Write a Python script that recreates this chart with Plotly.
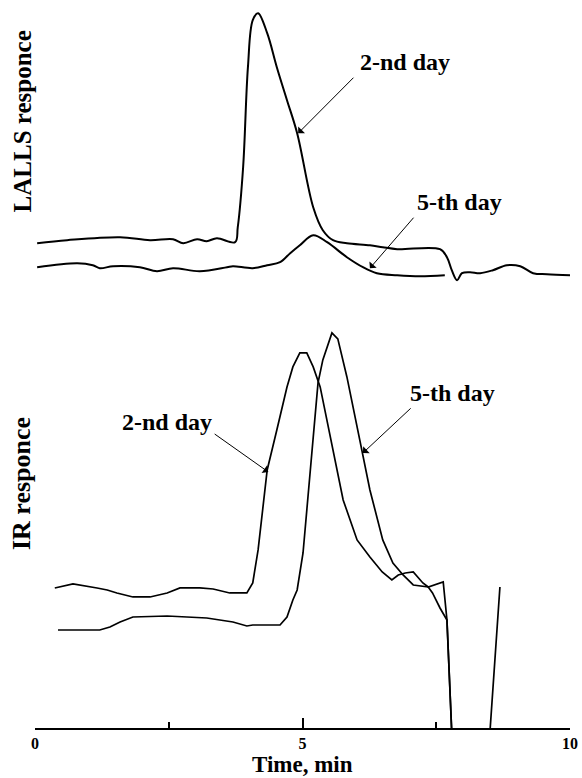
import plotly.graph_objects as go

# ---------------- data (time in min, response in arbitrary units) ----------------
# LALLS response (top panel)
lalls_2_t = [0.04, 0.60, 1.59, 2.15, 2.58, 2.77, 3.03, 3.21, 3.40, 3.74, 3.79, 3.89, 3.98, 4.07,
             4.17, 4.34, 4.52, 4.71, 4.90, 5.20, 5.38, 5.57, 5.83, 6.26, 6.50, 6.77, 7.57, 7.70,
             7.79, 7.89, 7.98, 8.13, 8.32, 8.56, 8.82, 9.07, 9.31, 9.57, 10.0]
lalls_2_y = [54, 57, 60, 57, 58, 54, 58, 56, 59, 55, 70, 130, 230, 277,
             284, 264, 230, 197, 164, 90, 67, 57, 54, 52, 50, 48, 48, 40,
             27, 17, 24, 25, 24, 27, 32, 31, 24, 23, 22]

lalls_5_t = [0.04, 0.79, 1.08, 1.21, 1.46, 1.96, 2.28, 2.58, 3.08, 3.59, 3.70, 4.07, 4.34,
             4.58, 4.77, 4.95, 5.20, 5.46, 5.83, 6.13, 6.39, 6.77, 7.20, 7.66]
lalls_5_y = [30, 34, 32, 29, 31, 30, 26, 29, 26, 30, 31, 29, 32,
             35, 44, 52, 62, 55, 40, 30, 24, 22, 21, 22]

# IR response (bottom panel)
ir_2_t = [0.37, 0.71, 1.16, 1.35, 1.53, 1.83, 2.15, 2.47, 2.71, 3.08, 3.33, 3.64, 3.96, 4.07,
          4.17, 4.24, 4.34, 4.52, 4.71, 4.82, 4.95, 5.08, 5.20, 5.33, 5.51, 5.76, 6.02, 6.26,
          6.49, 6.67, 6.79, 6.92, 7.07, 7.16, 7.25, 7.35, 7.63, 7.70, 7.81, 8.47, 8.69]
ir_2_y = [140, 144, 140, 138, 135, 131, 131, 135, 140, 140, 139, 135, 135, 145,
          178, 212, 258, 298, 341, 361, 375, 375, 361, 341, 295, 228, 188, 171,
          156, 148, 153, 155, 156, 151, 145, 141, 146, 108, -30, -30, 141]

ir_5_t = [0.43, 1.21, 1.40, 1.59, 1.83, 2.47, 3.21, 3.70, 3.96, 4.07, 4.58, 4.71, 4.82, 4.90,
          5.01, 5.10, 5.20, 5.29, 5.38, 5.55, 5.66, 5.83, 6.07, 6.26, 6.50, 6.69, 6.88, 7.07,
          7.35, 7.43, 7.57, 7.70, 7.81]
ir_5_y = [98, 98, 101, 106, 111, 112, 110, 106, 102, 103, 103, 111, 128, 138,
          175, 228, 295, 345, 368, 395, 389, 351, 288, 238, 188, 165, 153, 143,
          141, 135, 120, 108, -30]

x_ticks = [0, 5, 10]

# labels: (text, time, response) and arrows: (head_t, head_y, tail_t, tail_y)
top_labels = [("2-nd day", 6.92, 235), ("5-th day", 7.94, 95)]
top_arrows = [(4.92, 164, 5.98, 221), (6.26, 29, 7.10, 81)]
bot_labels = [("2-nd day", 2.47, 306), ("5-th day", 7.81, 335)]
bot_arrows = [(4.36, 256, 3.33, 295), (6.13, 275, 7.05, 321)]

FONT = "Liberation Serif, Times New Roman, serif"

fig = go.Figure()
fig.add_trace(go.Scatter(x=lalls_2_t, y=lalls_2_y, yaxis="y2", mode="lines",
                         line=dict(color="black", width=2), line_shape="spline",
                         hoverinfo="skip"))
fig.add_trace(go.Scatter(x=lalls_5_t, y=lalls_5_y, yaxis="y2", mode="lines",
                         line=dict(color="black", width=2), line_shape="spline",
                         hoverinfo="skip"))
fig.add_trace(go.Scatter(x=ir_2_t, y=ir_2_y, yaxis="y", mode="lines",
                         line=dict(color="black", width=1.7),
                         hoverinfo="skip"))
fig.add_trace(go.Scatter(x=ir_5_t, y=ir_5_y, yaxis="y", mode="lines",
                         line=dict(color="black", width=1.7),
                         hoverinfo="skip"))

annotations = []
for text, tx, ty in top_labels:
    annotations.append(dict(text=text, x=tx, y=ty, xref="x", yref="y2", showarrow=False,
                            font=dict(family=FONT, size=24, color="black", weight="bold")))
for text, tx, ty in bot_labels:
    annotations.append(dict(text=text, x=tx, y=ty, xref="x", yref="y", showarrow=False,
                            font=dict(family=FONT, size=24, color="black", weight="bold")))
for hx, hy, tx, ty in top_arrows:
    annotations.append(dict(text="", x=hx, y=hy, ax=tx, ay=ty, xref="x", yref="y2",
                            axref="x", ayref="y2", showarrow=True, arrowhead=1,
                            arrowsize=1.6, arrowwidth=1, arrowcolor="black"))
for hx, hy, tx, ty in bot_arrows:
    annotations.append(dict(text="", x=hx, y=hy, ax=tx, ay=ty, xref="x", yref="y",
                            axref="x", ayref="y", showarrow=True, arrowhead=1,
                            arrowsize=1.6, arrowwidth=1, arrowcolor="black"))
annotations.append(dict(text="LALLS responce", x=-0.024, y=0.845, xref="paper", yref="paper",
                        xanchor="center", yanchor="middle", textangle=-90, showarrow=False,
                        font=dict(family=FONT, size=25, color="black", weight="bold")))
annotations.append(dict(text="IR responce", x=-0.024, y=0.340, xref="paper", yref="paper",
                        xanchor="center", yanchor="middle", textangle=-90, showarrow=False,
                        font=dict(family=FONT, size=26, color="black", weight="bold")))
annotations.append(dict(text="Time, min", x=0.5, y=-0.0505, xref="paper", yref="paper",
                        xanchor="center", yanchor="middle", showarrow=False,
                        font=dict(family=FONT, size=23, color="black", weight="bold")))

fig.update_layout(
    width=582, height=778,
    margin=dict(l=35, r=12, t=10, b=50),
    paper_bgcolor="white", plot_bgcolor="white",
    showlegend=False,
    annotations=annotations,
    xaxis=dict(range=[0, 10], showgrid=False, zeroline=False, showline=True,
               linecolor="black", linewidth=2, ticks="inside", ticklen=10, tickwidth=1.5,
               tickcolor="black", tickvals=x_ticks,
               ticktext=["<b>%d</b>" % v for v in x_ticks],
               tickfont=dict(family=FONT, size=16, color="black"),
               minor=dict(dtick=2.5, ticks="inside", ticklen=6, tickwidth=1.5,
                          tickcolor="black", showgrid=False),
               automargin=False, anchor="y"),
    yaxis=dict(domain=[0, 0.56], range=[0, 402], visible=False, showgrid=False,
               zeroline=False),
    yaxis2=dict(domain=[0.6, 1.0], range=[0, 287.2], visible=False, showgrid=False,
                zeroline=False, anchor="x"),
)

fig.write_html("out.html")
